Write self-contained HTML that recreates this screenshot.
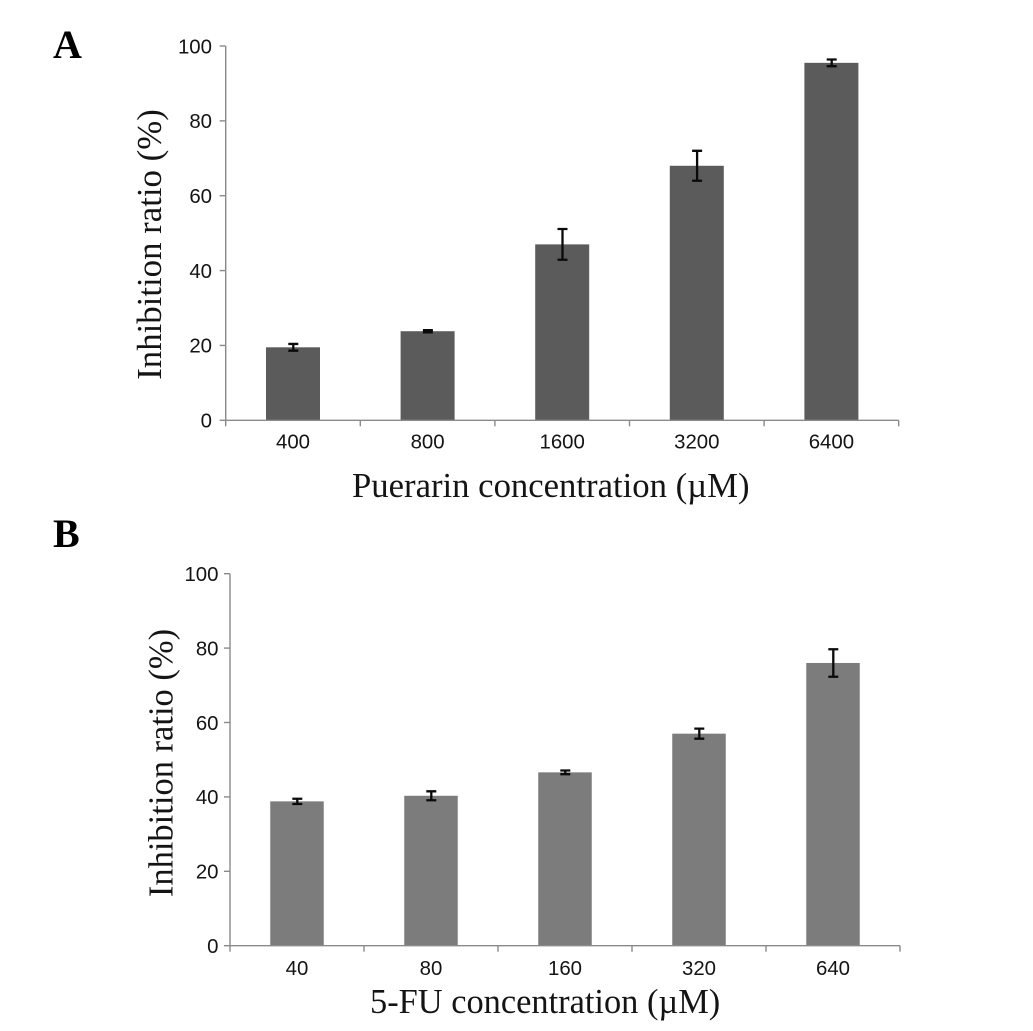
<!DOCTYPE html>
<html lang="en">
<head>
<meta charset="utf-8">
<title>Inhibition ratio charts</title>
<style>
  html, body { margin: 0; padding: 0; background: #fff; }
  svg { display: block; }
  .tick { font-family: "Liberation Sans", sans-serif; font-size: 20.4px; fill: #141414; }
  .title { font-family: "Liberation Serif", serif; fill: #141414; }
  .panel { font-family: "Liberation Serif", serif; font-weight: bold; font-size: 40px; fill: #000; }
</style>
</head>
<body>
<svg id="figure" xmlns="http://www.w3.org/2000/svg" width="1033" height="1031" viewBox="0 0 1033 1031">
  <rect width="1033" height="1031" fill="#fff"/>
  <text class="panel" x="53" y="58">A</text>
  <text class="panel" x="53" y="547">B</text>
</svg>
<script>
const yTickLabels = [0, 20, 40, 60, 80, 100];
const categoriesA = ["400", "800", "1600", "3200", "6400"];
const valuesA = [19.5, 23.8, 47, 68, 95.5];
const errorsA = [0.9, 0.3, 4.1, 4, 0.9];
const categoriesB = ["40", "80", "160", "320", "640"];
const valuesB = [38.8, 40.3, 46.6, 57, 76];
const errorsB = [0.7, 1.2, 0.5, 1.35, 3.7];

const NS = "http://www.w3.org/2000/svg";
const svg = document.getElementById("figure");

function make(tag, attrs, parent, text) {
  const el = document.createElementNS(NS, tag);
  for (const k in attrs) el.setAttribute(k, attrs[k]);
  if (text !== undefined) el.textContent = text;
  parent.appendChild(el);
  return el;
}

function drawPanel(p, categories, values, errors) {
  const g = make("g", {}, svg);
  
  
  const yScale = v => p.y0 + (p.y100 - p.y0) * v / 100;
  const band = (p.right - p.left) / categories.length;
  const xCenter = i => p.left + band * (i + 0.5);

  values.forEach((v, i) => {
    const bar = make("rect", {
      x: xCenter(i) - p.barWidth / 2,
      y: yScale(v),
      width: p.barWidth,
      height: p.y0 - yScale(v),
      fill: p.barColor
    }, g);
    
    
  });

  const axisAttrs = { stroke: "#8a8a8a", "stroke-width": 1.4, fill: "none" };
  const yAxis = make("line", Object.assign({ x1: p.left, x2: p.left, y1: p.y100, y2: p.y0 }, axisAttrs), g);
  
  
  const xAxis = make("line", Object.assign({ x1: p.left, x2: p.right, y1: p.y0, y2: p.y0 }, axisAttrs), g);
  
  

  yTickLabels.forEach(t => {
    const y = yScale(t);
    const tick = make("line", Object.assign({ x1: p.left - 6, x2: p.left, y1: y, y2: y }, axisAttrs), g);
    
    
    const label = make("text", { class: "tick", x: p.yLabelX, y: y + 7.3, "text-anchor": "end" }, g, String(t));
    
    
  });

  for (let i = 0; i <= categories.length; i++) {
    const x = p.left + band * i;
    const tick = make("line", Object.assign({ x1: x, x2: x, y1: p.y0, y2: p.y0 + 6 }, axisAttrs), g);
    
    
  }

  categories.forEach((c, i) => {
    const label = make("text", { class: "tick", x: xCenter(i), y: p.xLabelY, "text-anchor": "middle" }, g, c);
    
    
  });

  values.forEach((v, i) => {
    const cx = xCenter(i) + 0.3;
    const top = yScale(v + errors[i]);
    const bottom = yScale(v - errors[i]);
    const err = make("path", {
      d: "M" + (cx - 5) + " " + top + "H" + (cx + 5) +
         "M" + cx + " " + top + "V" + bottom +
         "M" + (cx - 5) + " " + bottom + "H" + (cx + 5),
      stroke: "#0a0a0a",
      "stroke-width": 2.3,
      fill: "none"
    }, g);
    
    
  });

  const yTitle = make("text", {
    class: "title",
    "font-size": p.yTitleSize,
    "text-anchor": "middle",
    transform: "translate(" + p.yTitleX + " " + p.yTitleY + ") rotate(-90)"
  }, g, "Inhibition ratio (%)");
  
  

  const xTitle = make("text", {
    class: "title",
    "font-size": p.xTitleSize,
    x: p.xTitleX,
    y: p.xTitleY
  }, g, p.xTitle);
  
  
}

drawPanel({
  id: "panel-a", left: 225.7, right: 898.7, y0: 420.3, y100: 46, barWidth: 54, barColor: "#5b5b5b",
  yLabelX: 212, xLabelY: 448.5, yTitleX: 161, yTitleY: 244.5, yTitleSize: 34.8,
  xTitle: "Puerarin concentration (\u00B5M)", xTitleX: 352, xTitleY: 497, xTitleSize: 34.7
}, categoriesA, valuesA, errorsA);

drawPanel({
  id: "panel-b", left: 230, right: 900, y0: 945.7, y100: 573.7, barWidth: 53.5, barColor: "#7c7c7c",
  yLabelX: 218.5, xLabelY: 975, yTitleX: 172.5, yTitleY: 763, yTitleSize: 34.5,
  xTitle: "5-FU concentration (\u00B5M)", xTitleX: 370, xTitleY: 1013, xTitleSize: 34.4
}, categoriesB, valuesB, errorsB);
</script>
</body>
</html>
